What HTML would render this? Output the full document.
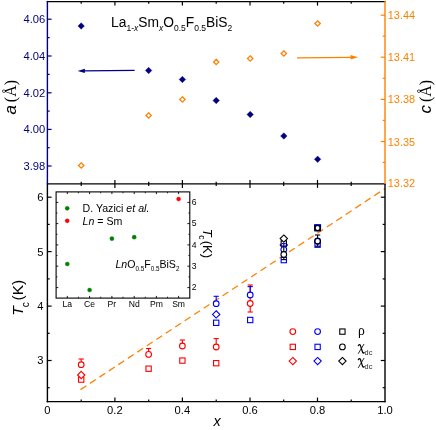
<!DOCTYPE html><html><head><meta charset="utf-8"><style>html,body{margin:0;padding:0;background:#fff;width:436px;height:430px;overflow:hidden}</style></head><body><svg width="436" height="430" viewBox="0 0 436 430" style="position:absolute;left:0;top:0;will-change:transform;font-family:'Liberation Sans',sans-serif">
<rect width="436" height="430" fill="#fff"/>
<line x1="80.5" y1="389.6" x2="385.0" y2="188.6" stroke="#ff8000" stroke-width="1.3" stroke-dasharray="7 4.35"/>
<line x1="46.699999999999996" y1="1.6" x2="385.7" y2="1.6" stroke="#000000" stroke-width="1.4"/>
<line x1="46.699999999999996" y1="183.9" x2="385.7" y2="183.9" stroke="#000000" stroke-width="1.4"/>
<line x1="47.4" y1="0.9000000000000001" x2="47.4" y2="183.9" stroke="#000080" stroke-width="1.4"/>
<line x1="385.0" y1="0.9000000000000001" x2="385.0" y2="183.9" stroke="#ff8000" stroke-width="1.4"/>
<line x1="47.4" y1="183.9" x2="47.4" y2="402.3" stroke="#000000" stroke-width="1.4"/>
<line x1="385.0" y1="183.9" x2="385.0" y2="402.3" stroke="#000000" stroke-width="1.4"/>
<line x1="46.699999999999996" y1="401.6" x2="385.7" y2="401.6" stroke="#000000" stroke-width="1.4"/>
<line x1="81.2" y1="1.6" x2="81.2" y2="3.8000000000000003" stroke="#000000" stroke-width="1.2"/>
<line x1="81.2" y1="181.70000000000002" x2="81.2" y2="186.1" stroke="#000000" stroke-width="1.2"/>
<line x1="81.2" y1="399.40000000000003" x2="81.2" y2="401.6" stroke="#000000" stroke-width="1.2"/>
<line x1="114.9" y1="1.6" x2="114.9" y2="5.6" stroke="#000000" stroke-width="1.2"/>
<line x1="114.9" y1="179.9" x2="114.9" y2="187.9" stroke="#000000" stroke-width="1.2"/>
<line x1="114.9" y1="397.6" x2="114.9" y2="401.6" stroke="#000000" stroke-width="1.2"/>
<line x1="148.7" y1="1.6" x2="148.7" y2="3.8000000000000003" stroke="#000000" stroke-width="1.2"/>
<line x1="148.7" y1="181.70000000000002" x2="148.7" y2="186.1" stroke="#000000" stroke-width="1.2"/>
<line x1="148.7" y1="399.40000000000003" x2="148.7" y2="401.6" stroke="#000000" stroke-width="1.2"/>
<line x1="182.4" y1="1.6" x2="182.4" y2="5.6" stroke="#000000" stroke-width="1.2"/>
<line x1="182.4" y1="179.9" x2="182.4" y2="187.9" stroke="#000000" stroke-width="1.2"/>
<line x1="182.4" y1="397.6" x2="182.4" y2="401.6" stroke="#000000" stroke-width="1.2"/>
<line x1="216.2" y1="1.6" x2="216.2" y2="3.8000000000000003" stroke="#000000" stroke-width="1.2"/>
<line x1="216.2" y1="181.70000000000002" x2="216.2" y2="186.1" stroke="#000000" stroke-width="1.2"/>
<line x1="216.2" y1="399.40000000000003" x2="216.2" y2="401.6" stroke="#000000" stroke-width="1.2"/>
<line x1="250.0" y1="1.6" x2="250.0" y2="5.6" stroke="#000000" stroke-width="1.2"/>
<line x1="250.0" y1="179.9" x2="250.0" y2="187.9" stroke="#000000" stroke-width="1.2"/>
<line x1="250.0" y1="397.6" x2="250.0" y2="401.6" stroke="#000000" stroke-width="1.2"/>
<line x1="283.7" y1="1.6" x2="283.7" y2="3.8000000000000003" stroke="#000000" stroke-width="1.2"/>
<line x1="283.7" y1="181.70000000000002" x2="283.7" y2="186.1" stroke="#000000" stroke-width="1.2"/>
<line x1="283.7" y1="399.40000000000003" x2="283.7" y2="401.6" stroke="#000000" stroke-width="1.2"/>
<line x1="317.5" y1="1.6" x2="317.5" y2="5.6" stroke="#000000" stroke-width="1.2"/>
<line x1="317.5" y1="179.9" x2="317.5" y2="187.9" stroke="#000000" stroke-width="1.2"/>
<line x1="317.5" y1="397.6" x2="317.5" y2="401.6" stroke="#000000" stroke-width="1.2"/>
<line x1="351.2" y1="1.6" x2="351.2" y2="3.8000000000000003" stroke="#000000" stroke-width="1.2"/>
<line x1="351.2" y1="181.70000000000002" x2="351.2" y2="186.1" stroke="#000000" stroke-width="1.2"/>
<line x1="351.2" y1="399.40000000000003" x2="351.2" y2="401.6" stroke="#000000" stroke-width="1.2"/>
<line x1="47.4" y1="19.2" x2="51.6" y2="19.2" stroke="#000080" stroke-width="1.2"/>
<text x="45.2" y="23.2" font-size="11.2" fill="#000080" text-anchor="end">4.06</text>
<line x1="47.4" y1="56.0" x2="51.6" y2="56.0" stroke="#000080" stroke-width="1.2"/>
<text x="45.2" y="60.0" font-size="11.2" fill="#000080" text-anchor="end">4.04</text>
<line x1="47.4" y1="92.8" x2="51.6" y2="92.8" stroke="#000080" stroke-width="1.2"/>
<text x="45.2" y="96.8" font-size="11.2" fill="#000080" text-anchor="end">4.02</text>
<line x1="47.4" y1="129.4" x2="51.6" y2="129.4" stroke="#000080" stroke-width="1.2"/>
<text x="45.2" y="133.4" font-size="11.2" fill="#000080" text-anchor="end">4.00</text>
<line x1="47.4" y1="166.0" x2="51.6" y2="166.0" stroke="#000080" stroke-width="1.2"/>
<text x="45.2" y="170.0" font-size="11.2" fill="#000080" text-anchor="end">3.98</text>
<line x1="47.4" y1="37.6" x2="49.699999999999996" y2="37.6" stroke="#000080" stroke-width="1.2"/>
<line x1="47.4" y1="74.4" x2="49.699999999999996" y2="74.4" stroke="#000080" stroke-width="1.2"/>
<line x1="47.4" y1="111.1" x2="49.699999999999996" y2="111.1" stroke="#000080" stroke-width="1.2"/>
<line x1="47.4" y1="147.7" x2="49.699999999999996" y2="147.7" stroke="#000080" stroke-width="1.2"/>
<line x1="380.8" y1="15.2" x2="385.0" y2="15.2" stroke="#ff8000" stroke-width="1.2"/>
<text x="387.8" y="19.2" font-size="10.9" fill="#ff8000">13.44</text>
<line x1="380.8" y1="57.2" x2="385.0" y2="57.2" stroke="#ff8000" stroke-width="1.2"/>
<text x="387.8" y="61.2" font-size="10.9" fill="#ff8000">13.41</text>
<line x1="380.8" y1="99.4" x2="385.0" y2="99.4" stroke="#ff8000" stroke-width="1.2"/>
<text x="387.8" y="103.4" font-size="10.9" fill="#ff8000">13.38</text>
<line x1="380.8" y1="141.5" x2="385.0" y2="141.5" stroke="#ff8000" stroke-width="1.2"/>
<text x="387.8" y="145.5" font-size="10.9" fill="#ff8000">13.35</text>
<text x="387.8" y="187.3" font-size="10.9" fill="#ff8000">13.32</text>
<line x1="382.7" y1="36.2" x2="385.0" y2="36.2" stroke="#ff8000" stroke-width="1.2"/>
<line x1="382.7" y1="78.3" x2="385.0" y2="78.3" stroke="#ff8000" stroke-width="1.2"/>
<line x1="382.7" y1="120.4" x2="385.0" y2="120.4" stroke="#ff8000" stroke-width="1.2"/>
<line x1="382.7" y1="162.4" x2="385.0" y2="162.4" stroke="#ff8000" stroke-width="1.2"/>
<line x1="47.4" y1="197.2" x2="51.6" y2="197.2" stroke="#000000" stroke-width="1.2"/>
<line x1="380.8" y1="197.2" x2="385.0" y2="197.2" stroke="#000000" stroke-width="1.2"/>
<text x="43.6" y="201.1" font-size="11.2" fill="#000000" text-anchor="end">6</text>
<line x1="47.4" y1="251.6" x2="51.6" y2="251.6" stroke="#000000" stroke-width="1.2"/>
<line x1="380.8" y1="251.6" x2="385.0" y2="251.6" stroke="#000000" stroke-width="1.2"/>
<text x="43.6" y="255.5" font-size="11.2" fill="#000000" text-anchor="end">5</text>
<line x1="47.4" y1="306.1" x2="51.6" y2="306.1" stroke="#000000" stroke-width="1.2"/>
<line x1="380.8" y1="306.1" x2="385.0" y2="306.1" stroke="#000000" stroke-width="1.2"/>
<text x="43.6" y="310.0" font-size="11.2" fill="#000000" text-anchor="end">4</text>
<line x1="47.4" y1="360.5" x2="51.6" y2="360.5" stroke="#000000" stroke-width="1.2"/>
<line x1="380.8" y1="360.5" x2="385.0" y2="360.5" stroke="#000000" stroke-width="1.2"/>
<text x="43.6" y="364.4" font-size="11.2" fill="#000000" text-anchor="end">3</text>
<line x1="47.4" y1="224.4" x2="49.699999999999996" y2="224.4" stroke="#000000" stroke-width="1.2"/>
<line x1="382.7" y1="224.4" x2="385.0" y2="224.4" stroke="#000000" stroke-width="1.2"/>
<line x1="47.4" y1="278.9" x2="49.699999999999996" y2="278.9" stroke="#000000" stroke-width="1.2"/>
<line x1="382.7" y1="278.9" x2="385.0" y2="278.9" stroke="#000000" stroke-width="1.2"/>
<line x1="47.4" y1="333.3" x2="49.699999999999996" y2="333.3" stroke="#000000" stroke-width="1.2"/>
<line x1="382.7" y1="333.3" x2="385.0" y2="333.3" stroke="#000000" stroke-width="1.2"/>
<line x1="47.4" y1="387.7" x2="49.699999999999996" y2="387.7" stroke="#000000" stroke-width="1.2"/>
<line x1="382.7" y1="387.7" x2="385.0" y2="387.7" stroke="#000000" stroke-width="1.2"/>
<text x="47.4" y="414.3" font-size="11.2" text-anchor="middle">0</text>
<text x="114.9" y="414.3" font-size="11.2" text-anchor="middle">0.2</text>
<text x="182.4" y="414.3" font-size="11.2" text-anchor="middle">0.4</text>
<text x="250.0" y="414.3" font-size="11.2" text-anchor="middle">0.6</text>
<text x="317.5" y="414.3" font-size="11.2" text-anchor="middle">0.8</text>
<text x="385.0" y="414.3" font-size="11.2" text-anchor="middle">1.0</text>
<text x="217.0" y="425.6" font-size="14.5" font-style="italic" text-anchor="middle">x</text>
<text transform="translate(16.4,114.6) rotate(-90)" font-size="17"><tspan font-style="italic">a</tspan><tspan font-family="'Liberation Serif',serif" font-size="16" dx="3">(Å)</tspan></text>
<text transform="translate(431.2,113.6) rotate(-90)" font-size="17"><tspan font-style="italic">c</tspan><tspan font-family="'Liberation Serif',serif" font-size="16" dx="3">(Å)</tspan></text>
<text transform="translate(23.4,315.8) rotate(-90)" font-size="15.5"><tspan font-style="italic">T</tspan><tspan font-size="10.3" dy="5.5" dx="-0.8">c</tspan><tspan dy="-5.5" dx="1.5">(K)</tspan></text>
<text x="111.1" y="26.6" font-size="13.8">La<tspan font-size="8.5" dy="4">1-<tspan font-style="italic">x</tspan></tspan><tspan dy="-4">Sm</tspan><tspan font-size="8.5" dy="4" font-style="italic">x</tspan><tspan dy="-4">O</tspan><tspan font-size="8.5" dy="4">0.5</tspan><tspan dy="-4">F</tspan><tspan font-size="8.5" dy="4">0.5</tspan><tspan dy="-4">BiS</tspan><tspan font-size="8.5" dy="4">2</tspan></text>
<line x1="83" y1="70.9" x2="134.6" y2="70.3" stroke="#000080" stroke-width="1.3"/><path d="M77.6 71 L84.9 68.8 L84.9 73.1Z" fill="#000080"/>
<line x1="297" y1="57.8" x2="352" y2="57.3" stroke="#ff8000" stroke-width="1.3"/><path d="M358 57.3 L350.6 55.1 L350.6 59.5Z" fill="#ff8000"/>
<path d="M81.2 22.75 L84.45 26 L81.2 29.25 L77.95 26Z" fill="#000080" stroke="#000080" stroke-width="0.4" stroke-linejoin="miter"/>
<path d="M148.6 67.25 L151.85 70.5 L148.6 73.75 L145.35 70.5Z" fill="#000080" stroke="#000080" stroke-width="0.4" stroke-linejoin="miter"/>
<path d="M182.4 76.25 L185.65 79.5 L182.4 82.75 L179.15 79.5Z" fill="#000080" stroke="#000080" stroke-width="0.4" stroke-linejoin="miter"/>
<path d="M216.2 97.25 L219.45 100.5 L216.2 103.75 L212.95 100.5Z" fill="#000080" stroke="#000080" stroke-width="0.4" stroke-linejoin="miter"/>
<path d="M250.2 111.25 L253.45 114.5 L250.2 117.75 L246.95 114.5Z" fill="#000080" stroke="#000080" stroke-width="0.4" stroke-linejoin="miter"/>
<path d="M283.8 132.75 L287.05 136 L283.8 139.25 L280.55 136Z" fill="#000080" stroke="#000080" stroke-width="0.4" stroke-linejoin="miter"/>
<path d="M317.6 156.05 L320.85 159.3 L317.6 162.55 L314.35 159.3Z" fill="#000080" stroke="#000080" stroke-width="0.4" stroke-linejoin="miter"/>
<path d="M81.2 162.8 L83.9 165.5 L81.2 168.2 L78.5 165.5Z" fill="#fff" stroke="#ff8000" stroke-width="1.25" stroke-linejoin="miter"/>
<path d="M148.6 112.8 L151.29999999999998 115.5 L148.6 118.2 L145.9 115.5Z" fill="#fff" stroke="#ff8000" stroke-width="1.25" stroke-linejoin="miter"/>
<path d="M182.4 96.8 L185.1 99.5 L182.4 102.2 L179.70000000000002 99.5Z" fill="#fff" stroke="#ff8000" stroke-width="1.25" stroke-linejoin="miter"/>
<path d="M216.2 59.3 L218.89999999999998 62 L216.2 64.7 L213.5 62Z" fill="#fff" stroke="#ff8000" stroke-width="1.25" stroke-linejoin="miter"/>
<path d="M250.2 55.8 L252.89999999999998 58.5 L250.2 61.2 L247.5 58.5Z" fill="#fff" stroke="#ff8000" stroke-width="1.25" stroke-linejoin="miter"/>
<path d="M283.8 50.8 L286.5 53.5 L283.8 56.2 L281.1 53.5Z" fill="#fff" stroke="#ff8000" stroke-width="1.25" stroke-linejoin="miter"/>
<path d="M317.6 20.8 L320.3 23.5 L317.6 26.2 L314.90000000000003 23.5Z" fill="#fff" stroke="#ff8000" stroke-width="1.25" stroke-linejoin="miter"/>
<rect x="56.1" y="191.9" width="133.70000000000002" height="106.20000000000002" fill="#fff" stroke="#000000" stroke-width="1.1"/>
<line x1="67.3" y1="298.1" x2="67.3" y2="295.90000000000003" stroke="#000000" stroke-width="0.9"/>
<line x1="67.3" y1="191.9" x2="67.3" y2="194.1" stroke="#000000" stroke-width="0.9"/>
<text x="67.3" y="307" font-size="8.6" text-anchor="middle">La</text>
<line x1="89.6" y1="298.1" x2="89.6" y2="295.90000000000003" stroke="#000000" stroke-width="0.9"/>
<line x1="89.6" y1="191.9" x2="89.6" y2="194.1" stroke="#000000" stroke-width="0.9"/>
<text x="89.6" y="307" font-size="8.6" text-anchor="middle">Ce</text>
<line x1="111.9" y1="298.1" x2="111.9" y2="295.90000000000003" stroke="#000000" stroke-width="0.9"/>
<line x1="111.9" y1="191.9" x2="111.9" y2="194.1" stroke="#000000" stroke-width="0.9"/>
<text x="111.9" y="307" font-size="8.6" text-anchor="middle">Pr</text>
<line x1="134.2" y1="298.1" x2="134.2" y2="295.90000000000003" stroke="#000000" stroke-width="0.9"/>
<line x1="134.2" y1="191.9" x2="134.2" y2="194.1" stroke="#000000" stroke-width="0.9"/>
<text x="134.2" y="307" font-size="8.6" text-anchor="middle">Nd</text>
<line x1="156.4" y1="298.1" x2="156.4" y2="295.90000000000003" stroke="#000000" stroke-width="0.9"/>
<line x1="156.4" y1="191.9" x2="156.4" y2="194.1" stroke="#000000" stroke-width="0.9"/>
<text x="156.4" y="307" font-size="8.6" text-anchor="middle">Pm</text>
<line x1="178.6" y1="298.1" x2="178.6" y2="295.90000000000003" stroke="#000000" stroke-width="0.9"/>
<line x1="178.6" y1="191.9" x2="178.6" y2="194.1" stroke="#000000" stroke-width="0.9"/>
<text x="178.6" y="307" font-size="8.6" text-anchor="middle">Sm</text>
<line x1="78.4" y1="298.1" x2="78.4" y2="296.70000000000005" stroke="#000000" stroke-width="0.8"/>
<line x1="78.4" y1="191.9" x2="78.4" y2="193.3" stroke="#000000" stroke-width="0.8"/>
<line x1="100.7" y1="298.1" x2="100.7" y2="296.70000000000005" stroke="#000000" stroke-width="0.8"/>
<line x1="100.7" y1="191.9" x2="100.7" y2="193.3" stroke="#000000" stroke-width="0.8"/>
<line x1="123" y1="298.1" x2="123" y2="296.70000000000005" stroke="#000000" stroke-width="0.8"/>
<line x1="123" y1="191.9" x2="123" y2="193.3" stroke="#000000" stroke-width="0.8"/>
<line x1="145.3" y1="298.1" x2="145.3" y2="296.70000000000005" stroke="#000000" stroke-width="0.8"/>
<line x1="145.3" y1="191.9" x2="145.3" y2="193.3" stroke="#000000" stroke-width="0.8"/>
<line x1="167.5" y1="298.1" x2="167.5" y2="296.70000000000005" stroke="#000000" stroke-width="0.8"/>
<line x1="167.5" y1="191.9" x2="167.5" y2="193.3" stroke="#000000" stroke-width="0.8"/>
<line x1="189.8" y1="202.4" x2="187.4" y2="202.4" stroke="#000000" stroke-width="0.9"/>
<line x1="56.1" y1="202.4" x2="58.300000000000004" y2="202.4" stroke="#000000" stroke-width="0.9"/>
<text x="191.8" y="205.20000000000002" font-size="8.6">6</text>
<line x1="189.8" y1="223.6" x2="187.4" y2="223.6" stroke="#000000" stroke-width="0.9"/>
<line x1="56.1" y1="223.6" x2="58.300000000000004" y2="223.6" stroke="#000000" stroke-width="0.9"/>
<text x="191.8" y="226.4" font-size="8.6">5</text>
<line x1="189.8" y1="244.9" x2="187.4" y2="244.9" stroke="#000000" stroke-width="0.9"/>
<line x1="56.1" y1="244.9" x2="58.300000000000004" y2="244.9" stroke="#000000" stroke-width="0.9"/>
<text x="191.8" y="247.70000000000002" font-size="8.6">4</text>
<line x1="189.8" y1="266.2" x2="187.4" y2="266.2" stroke="#000000" stroke-width="0.9"/>
<line x1="56.1" y1="266.2" x2="58.300000000000004" y2="266.2" stroke="#000000" stroke-width="0.9"/>
<text x="191.8" y="269.0" font-size="8.6">3</text>
<line x1="189.8" y1="287.6" x2="187.4" y2="287.6" stroke="#000000" stroke-width="0.9"/>
<line x1="56.1" y1="287.6" x2="58.300000000000004" y2="287.6" stroke="#000000" stroke-width="0.9"/>
<text x="191.8" y="290.40000000000003" font-size="8.6">2</text>
<line x1="189.8" y1="213" x2="188.4" y2="213" stroke="#000000" stroke-width="0.8"/>
<line x1="56.1" y1="213" x2="57.5" y2="213" stroke="#000000" stroke-width="0.8"/>
<line x1="189.8" y1="234.3" x2="188.4" y2="234.3" stroke="#000000" stroke-width="0.8"/>
<line x1="56.1" y1="234.3" x2="57.5" y2="234.3" stroke="#000000" stroke-width="0.8"/>
<line x1="189.8" y1="255.5" x2="188.4" y2="255.5" stroke="#000000" stroke-width="0.8"/>
<line x1="56.1" y1="255.5" x2="57.5" y2="255.5" stroke="#000000" stroke-width="0.8"/>
<line x1="189.8" y1="276.9" x2="188.4" y2="276.9" stroke="#000000" stroke-width="0.8"/>
<line x1="56.1" y1="276.9" x2="57.5" y2="276.9" stroke="#000000" stroke-width="0.8"/>
<text transform="translate(203.4,228.8) rotate(90)" font-size="13"><tspan font-style="italic">T</tspan><tspan font-size="8.6" dy="4.6" dx="-1.4">c</tspan><tspan dy="-4.6" dx="1.0">(K)</tspan></text>
<circle cx="67.3" cy="264" r="2.1" fill="#008000" stroke="#008000" stroke-width="0.3"/>
<circle cx="89.6" cy="290" r="2.1" fill="#008000" stroke="#008000" stroke-width="0.3"/>
<circle cx="111.9" cy="238.7" r="2.1" fill="#008000" stroke="#008000" stroke-width="0.3"/>
<circle cx="134.2" cy="237.2" r="2.1" fill="#008000" stroke="#008000" stroke-width="0.3"/>
<circle cx="178.6" cy="199" r="2.1" fill="#ff0000" stroke="#ff0000" stroke-width="0.3"/>
<circle cx="67.2" cy="208.3" r="2.1" fill="#008000" stroke="#008000" stroke-width="0.3"/>
<circle cx="67.2" cy="220.8" r="2.1" fill="#ff0000" stroke="#ff0000" stroke-width="0.3"/>
<text x="82.6" y="212" font-size="10.6">D. Yazici <tspan font-style="italic">et al.</tspan></text>
<text x="82.6" y="224.6" font-size="10.6"><tspan font-style="italic">Ln</tspan> = Sm</text>
<text x="115.4" y="268.4" font-size="10.6"><tspan font-style="italic">Ln</tspan>O<tspan font-size="6.3" dy="2.6">0.5</tspan><tspan dy="-2.6">F</tspan><tspan font-size="6.3" dy="2.6">0.5</tspan><tspan dy="-2.6">BiS</tspan><tspan font-size="6.3" dy="2.6">2</tspan></text>
<line x1="81.2" y1="359" x2="81.2" y2="364.7" stroke="#ff0000" stroke-width="1.1"/><line x1="78.60000000000001" y1="359" x2="83.8" y2="359" stroke="#ff0000" stroke-width="1.1"/>
<circle cx="81.2" cy="364.7" r="2.85" fill="#fff" stroke="#ff0000" stroke-width="1.1"/>
<rect x="78.55" y="376.95000000000005" width="5.3" height="5.3" fill="#fff" stroke="#ff0000" stroke-width="1.1"/>
<path d="M81.2 371.35 L84.85000000000001 375 L81.2 378.65 L77.55 375Z" fill="#fff" stroke="#ff0000" stroke-width="1.1" stroke-linejoin="miter"/>
<line x1="148.6" y1="348.5" x2="148.6" y2="354.4" stroke="#ff0000" stroke-width="1.1"/><line x1="146.0" y1="348.5" x2="151.2" y2="348.5" stroke="#ff0000" stroke-width="1.1"/>
<circle cx="148.6" cy="354.4" r="2.85" fill="#fff" stroke="#ff0000" stroke-width="1.1"/>
<rect x="145.95" y="366.05" width="5.3" height="5.3" fill="#fff" stroke="#ff0000" stroke-width="1.1"/>
<line x1="182.4" y1="340" x2="182.4" y2="346" stroke="#ff0000" stroke-width="1.1"/><line x1="179.8" y1="340" x2="185.0" y2="340" stroke="#ff0000" stroke-width="1.1"/>
<circle cx="182.4" cy="346" r="2.85" fill="#fff" stroke="#ff0000" stroke-width="1.1"/>
<rect x="179.75" y="357.95000000000005" width="5.3" height="5.3" fill="#fff" stroke="#ff0000" stroke-width="1.1"/>
<line x1="216.2" y1="338.6" x2="216.2" y2="347" stroke="#ff0000" stroke-width="1.1"/><line x1="213.6" y1="338.6" x2="218.79999999999998" y2="338.6" stroke="#ff0000" stroke-width="1.1"/>
<circle cx="216.2" cy="347" r="2.85" fill="#fff" stroke="#ff0000" stroke-width="1.1"/>
<rect x="213.54999999999998" y="360.55" width="5.3" height="5.3" fill="#fff" stroke="#ff0000" stroke-width="1.1"/>
<line x1="216.2" y1="296.3" x2="216.2" y2="303.7" stroke="#0000ff" stroke-width="1.1"/><line x1="213.6" y1="296.3" x2="218.79999999999998" y2="296.3" stroke="#0000ff" stroke-width="1.1"/>
<circle cx="216.2" cy="303.7" r="2.85" fill="#fff" stroke="#0000ff" stroke-width="1.1"/>
<rect x="213.54999999999998" y="320.15000000000003" width="5.3" height="5.3" fill="#fff" stroke="#0000ff" stroke-width="1.1"/>
<path d="M216.2 310.75 L219.85 314.4 L216.2 318.04999999999995 L212.54999999999998 314.4Z" fill="#fff" stroke="#0000ff" stroke-width="1.1" stroke-linejoin="miter"/>
<line x1="250.2" y1="285" x2="250.2" y2="312" stroke="#ff0000" stroke-width="1.1"/><line x1="247.6" y1="285" x2="252.79999999999998" y2="285" stroke="#ff0000" stroke-width="1.1"/><line x1="247.6" y1="312" x2="252.79999999999998" y2="312" stroke="#ff0000" stroke-width="1.1"/>
<line x1="250.2" y1="286.6" x2="250.2" y2="295" stroke="#0000ff" stroke-width="1.1"/><line x1="247.6" y1="286.6" x2="252.79999999999998" y2="286.6" stroke="#0000ff" stroke-width="1.1"/>
<circle cx="250.2" cy="303.5" r="2.85" fill="#fff" stroke="#ff0000" stroke-width="1.1"/>
<circle cx="250.2" cy="295" r="2.85" fill="#fff" stroke="#0000ff" stroke-width="1.1"/>
<rect x="247.54999999999998" y="317.35" width="5.3" height="5.3" fill="#fff" stroke="#0000ff" stroke-width="1.1"/>
<rect x="281.15000000000003" y="257.45000000000005" width="5.3" height="5.3" fill="#fff" stroke="#0000ff" stroke-width="1.1"/>
<path d="M283.8 241.35 L287.45 245 L283.8 248.65 L280.15000000000003 245Z" fill="#fff" stroke="#0000ff" stroke-width="1.1" stroke-linejoin="miter"/>
<circle cx="283.8" cy="249.6" r="2.85" fill="#fff" stroke="#0000ff" stroke-width="1.1"/>
<line x1="283.8" y1="242" x2="283.8" y2="259.6" stroke="#000000" stroke-width="1.1"/><line x1="281.2" y1="242" x2="286.40000000000003" y2="242" stroke="#000000" stroke-width="1.1"/><line x1="281.2" y1="259.6" x2="286.40000000000003" y2="259.6" stroke="#000000" stroke-width="1.1"/>
<circle cx="283.8" cy="254.5" r="2.85" fill="#fff" stroke="#000000" stroke-width="1.1"/>
<rect x="281.15000000000003" y="240.75" width="5.3" height="5.3" fill="#fff" stroke="#000000" stroke-width="1.1"/>
<line x1="283.8" y1="243.6" x2="283.8" y2="246.3" stroke="#0000ff" stroke-width="1.1"/><line x1="281.8" y1="243.6" x2="285.8" y2="243.6" stroke="#0000ff" stroke-width="1.1"/>
<path d="M283.8 234.95 L287.45 238.6 L283.8 242.25 L280.15000000000003 238.6Z" fill="#fff" stroke="#000000" stroke-width="1.1" stroke-linejoin="miter"/>
<rect x="314.95000000000005" y="242.04999999999998" width="5.3" height="5.3" fill="#fff" stroke="#0000ff" stroke-width="1.1"/>
<line x1="317.6" y1="235" x2="317.6" y2="246.2" stroke="#000000" stroke-width="1.1"/><line x1="315.0" y1="235" x2="320.20000000000005" y2="235" stroke="#000000" stroke-width="1.1"/><line x1="315.0" y1="246.2" x2="320.20000000000005" y2="246.2" stroke="#000000" stroke-width="1.1"/>
<circle cx="317.6" cy="241.0" r="2.85" fill="#fff" stroke="#0000ff" stroke-width="1.1"/>
<circle cx="317.6" cy="241.3" r="2.85" fill="none" stroke="#000000" stroke-width="1.1"/>
<rect x="314.65000000000003" y="224.65" width="5.8999999999999995" height="5.8999999999999995" fill="#fff" stroke="#0000ff" stroke-width="1.1"/>
<circle cx="317.6" cy="227.8" r="2.85" fill="none" stroke="#0000ff" stroke-width="1.1"/>
<rect x="314.95000000000005" y="225.54999999999998" width="5.3" height="5.3" fill="none" stroke="#000000" stroke-width="1.1"/>
<circle cx="317.6" cy="228.1" r="2.65" fill="none" stroke="#000000" stroke-width="1.1"/>
<circle cx="292.8" cy="331.6" r="2.85" fill="#fff" stroke="#ff0000" stroke-width="1.1"/>
<rect x="290.15000000000003" y="344.25" width="5.3" height="5.3" fill="#fff" stroke="#ff0000" stroke-width="1.1"/>
<path d="M292.8 357.45000000000005 L296.45 361.1 L292.8 364.75 L289.15000000000003 361.1Z" fill="#fff" stroke="#ff0000" stroke-width="1.1" stroke-linejoin="miter"/>
<circle cx="317.6" cy="331.6" r="2.85" fill="#fff" stroke="#0000ff" stroke-width="1.1"/>
<rect x="314.95000000000005" y="344.25" width="5.3" height="5.3" fill="#fff" stroke="#0000ff" stroke-width="1.1"/>
<path d="M317.6 357.45000000000005 L321.25 361.1 L317.6 364.75 L313.95000000000005 361.1Z" fill="#fff" stroke="#0000ff" stroke-width="1.1" stroke-linejoin="miter"/>
<rect x="339.75" y="328.95000000000005" width="5.3" height="5.3" fill="#fff" stroke="#000000" stroke-width="1.1"/>
<circle cx="342.4" cy="346.9" r="2.85" fill="#fff" stroke="#000000" stroke-width="1.1"/>
<path d="M342.4 357.45000000000005 L346.04999999999995 361.1 L342.4 364.75 L338.75 361.1Z" fill="#fff" stroke="#000000" stroke-width="1.1" stroke-linejoin="miter"/>
<text x="358.0" y="335.0" font-size="13.6" font-family="'Liberation Serif',serif">ρ</text>
<path d="M358.3 345.6 C358.7 344.3,360.0 344.20000000000005,360.5 345.6 L362.5 352.0 C362.9 353.20000000000005,363.7 353.40000000000003,364.09999999999997 352.5" fill="none" stroke="#000" stroke-width="1.25" stroke-linecap="round"/><path d="M363.9 344.3 L358.4 353.40000000000003" fill="none" stroke="#000" stroke-width="0.85" stroke-linecap="round"/>
<text x="364.6" y="354.5" font-size="7.3" fill="#2a2a2a">dc</text>
<path d="M358.3 359.7 C358.7 358.4,360.0 358.3,360.5 359.7 L362.5 366.09999999999997 C362.9 367.3,363.7 367.5,364.09999999999997 366.59999999999997" fill="none" stroke="#000" stroke-width="1.25" stroke-linecap="round"/><path d="M363.9 358.4 L358.4 367.5" fill="none" stroke="#000" stroke-width="0.85" stroke-linecap="round"/>
<text x="364.6" y="368.59999999999997" font-size="7.3" fill="#2a2a2a">dc</text>
</svg></body></html>
